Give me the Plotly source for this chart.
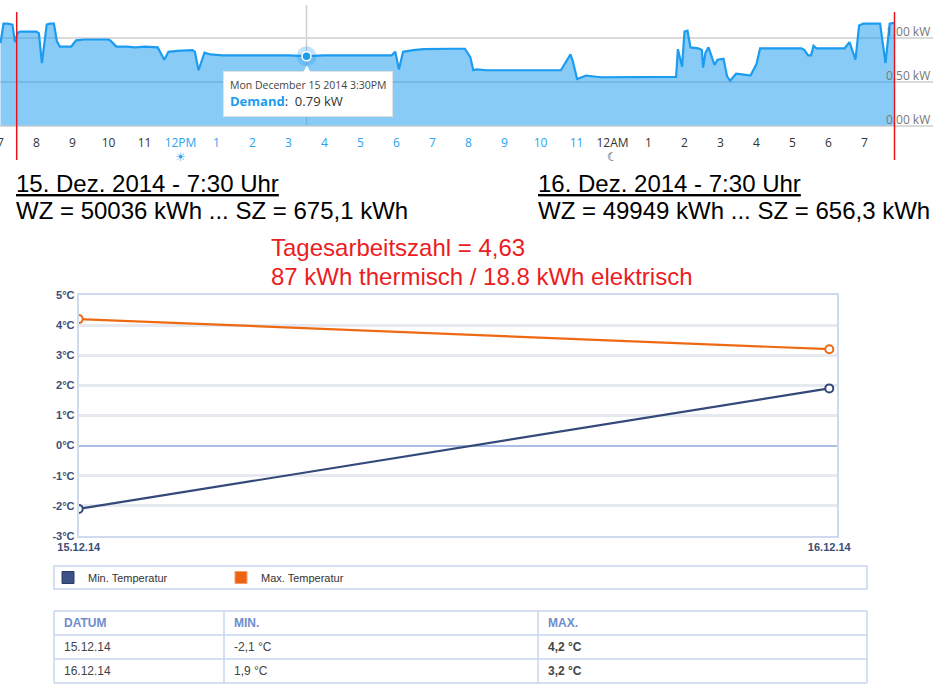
import plotly.graph_objects as go

# Demand curve (kW), 15./16.12.2014
demand_time = [
    "2014-12-15 07:00", "2014-12-15 07:05", "2014-12-15 07:12", "2014-12-15 07:20", "2014-12-15 07:24",
    "2014-12-15 07:29", "2014-12-15 07:33", "2014-12-15 07:45", "2014-12-15 08:00", "2014-12-15 08:04",
    "2014-12-15 08:09", "2014-12-15 08:17", "2014-12-15 08:22", "2014-12-15 08:29", "2014-12-15 08:34",
    "2014-12-15 08:39", "2014-12-15 08:50", "2014-12-15 08:58", "2014-12-15 09:06", "2014-12-15 09:20",
    "2014-12-15 09:40", "2014-12-15 10:00", "2014-12-15 10:03", "2014-12-15 10:13", "2014-12-15 10:30",
    "2014-12-15 10:45", "2014-12-15 11:00", "2014-12-15 11:22", "2014-12-15 11:33", "2014-12-15 11:40",
    "2014-12-15 11:55", "2014-12-15 12:10", "2014-12-15 12:20", "2014-12-15 12:24", "2014-12-15 12:30",
    "2014-12-15 12:40", "2014-12-15 12:50", "2014-12-15 13:10", "2014-12-15 13:30", "2014-12-15 14:00",
    "2014-12-15 14:30", "2014-12-15 15:00", "2014-12-15 15:30", "2014-12-15 16:00", "2014-12-15 16:30",
    "2014-12-15 17:00", "2014-12-15 17:30", "2014-12-15 17:52", "2014-12-15 17:58", "2014-12-15 18:04",
    "2014-12-15 18:11", "2014-12-15 18:28", "2014-12-15 18:45", "2014-12-15 19:10", "2014-12-15 19:30",
    "2014-12-15 19:54", "2014-12-15 20:03", "2014-12-15 20:08", "2014-12-15 20:13", "2014-12-15 20:30",
    "2014-12-15 21:00", "2014-12-15 21:30", "2014-12-15 22:00", "2014-12-15 22:34", "2014-12-15 22:50",
    "2014-12-15 22:54", "2014-12-15 23:01", "2014-12-15 23:16", "2014-12-15 23:40", "2014-12-16 00:30",
    "2014-12-16 01:00", "2014-12-16 01:46", "2014-12-16 01:49", "2014-12-16 01:56", "2014-12-16 02:00",
    "2014-12-16 02:05", "2014-12-16 02:10", "2014-12-16 02:23", "2014-12-16 02:29", "2014-12-16 02:31",
    "2014-12-16 02:35", "2014-12-16 02:40", "2014-12-16 02:50", "2014-12-16 02:55", "2014-12-16 03:05",
    "2014-12-16 03:11", "2014-12-16 03:16", "2014-12-16 03:26", "2014-12-16 03:39", "2014-12-16 03:50",
    "2014-12-16 04:00", "2014-12-16 04:06", "2014-12-16 04:30", "2014-12-16 05:00", "2014-12-16 05:15",
    "2014-12-16 05:20", "2014-12-16 05:26", "2014-12-16 05:31", "2014-12-16 05:35", "2014-12-16 05:40",
    "2014-12-16 06:00", "2014-12-16 06:27", "2014-12-16 06:35", "2014-12-16 06:45", "2014-12-16 06:51",
    "2014-12-16 06:58", "2014-12-16 07:26", "2014-12-16 07:35", "2014-12-16 07:42", "2014-12-16 07:49",
]
demand_kw = [
    0.94, 1.16, 1.16, 1.15, 0.95,
    1.06, 1.07, 1.07, 1.07, 1.05,
    0.71, 1.15, 1.16, 1.16, 0.96,
    0.90, 0.90, 0.90, 0.97, 0.98,
    0.98, 0.98, 0.97, 0.90, 0.90,
    0.89, 0.90, 0.89, 0.75, 0.84,
    0.85, 0.86, 0.86, 0.84, 0.63,
    0.83, 0.81, 0.80, 0.80, 0.80,
    0.80, 0.80, 0.79, 0.80, 0.80,
    0.80, 0.80, 0.80, 0.84, 0.64,
    0.84, 0.86, 0.87, 0.875, 0.875,
    0.875, 0.78, 0.63, 0.64, 0.63,
    0.63, 0.63, 0.63, 0.63, 0.81,
    0.73, 0.53, 0.57, 0.55, 0.55,
    0.55, 0.555, 0.87, 0.67, 1.07,
    1.08, 0.89, 0.88, 0.86, 0.66,
    0.83, 0.89, 0.69, 0.75, 0.76,
    0.56, 0.51, 0.59, 0.58, 0.57,
    0.70, 0.88, 0.88, 0.88, 0.88,
    0.86, 0.80, 0.80, 0.91, 0.88,
    0.88, 0.88, 0.95, 0.75, 1.14,
    1.16, 1.16, 0.71, 1.16, 1.17,
]

hour_ticks = [
    "2014-12-15 07:00", "2014-12-15 08:00", "2014-12-15 09:00", "2014-12-15 10:00", "2014-12-15 11:00",
    "2014-12-15 12:00", "2014-12-15 13:00", "2014-12-15 14:00", "2014-12-15 15:00", "2014-12-15 16:00",
    "2014-12-15 17:00", "2014-12-15 18:00", "2014-12-15 19:00", "2014-12-15 20:00", "2014-12-15 21:00",
    "2014-12-15 22:00", "2014-12-15 23:00", "2014-12-16 00:00", "2014-12-16 01:00", "2014-12-16 02:00",
    "2014-12-16 03:00", "2014-12-16 04:00", "2014-12-16 05:00", "2014-12-16 06:00", "2014-12-16 07:00",
]
hour_labels = ["7", "8", "9", "10", "11", "12PM", "1", "2", "3", "4", "5", "6", "7", "8", "9",
               "10", "11", "12AM", "1", "2", "3", "4", "5", "6", "7"]
kw_ticks = [0, 0.5, 1.0]
kw_labels = ["0.00 kW", "0.50 kW", "1.00 kW"]

tooltip_time = "2014-12-15 15:30"
reading_times = ["2014-12-15 07:27", "2014-12-16 07:50"]  # red marker lines (meter readings)

# header texts
reading_head = ["15. Dez. 2014 - 7:30 Uhr", "16. Dez. 2014 - 7:30 Uhr"]
reading_vals = ["WZ = 50036 kWh ... SZ = 675,1 kWh", "WZ = 49949 kWh ... SZ = 656,3 kWh"]
result_lines = ["Tagesarbeitszahl = 4,63", "87 kWh thermisch / 18.8 kWh elektrisch"]

# temperature chart
days = ["15.12.14", "16.12.14"]
t_min = [-2.1, 1.9]
t_max = [4.2, 3.2]
temp_ticks = [-3, -2, -1, 0, 1, 2, 3, 4, 5]

# table below the chart
table_head = ["DATUM", "MIN.", "MAX."]
t_min_txt = ["-2,1 °C", "1,9 °C"]
t_max_txt = ["4,2 °C", "3,2 °C"]

W, H = 946, 698
BLUE = "#1c9cf0"
ORANGE = "#ee6a12"
NAVY = "#34497a"
SANS = "Liberation Sans"
GRIDBLUE = "#c8d6ef"

def py(pix):
    # pixel row -> paper y
    return 1 - pix / H

def px(pix):
    return pix / W

fig = go.Figure()

# ---- demand area chart ----
fig.add_trace(go.Scatter(x=demand_time, y=demand_kw, mode="lines", fill="tozeroy",
                         line=dict(color=BLUE, width=2.2), fillcolor="rgba(28,156,240,0.52)",
                         hoverinfo="skip", showlegend=False, xaxis="x", yaxis="y"))

tip_val = demand_kw[demand_time.index(tooltip_time)]
fig.add_trace(go.Scatter(x=[tooltip_time], y=[tip_val], mode="markers",
                         marker=dict(size=20, color="rgba(28,156,240,0.28)"),
                         hoverinfo="skip", showlegend=False, xaxis="x", yaxis="y"))
fig.add_trace(go.Scatter(x=[tooltip_time], y=[tip_val], mode="markers",
                         marker=dict(size=9, color=BLUE, line=dict(color="white", width=1.5)),
                         hoverinfo="skip", showlegend=False, xaxis="x", yaxis="y"))

# ---- temperature lines ----
fig.add_trace(go.Scatter(x=days, y=t_max, mode="lines+markers", name="Max. Temperatur",
                         line=dict(color=ORANGE, width=2.2),
                         marker=dict(size=8, color="white", line=dict(color=ORANGE, width=2)),
                         showlegend=False, xaxis="x2", yaxis="y2"))
fig.add_trace(go.Scatter(x=days, y=t_min, mode="lines+markers", name="Min. Temperatur",
                         line=dict(color=NAVY, width=2.2),
                         marker=dict(size=8, color="white", line=dict(color=NAVY, width=2)),
                         showlegend=False, xaxis="x2", yaxis="y2"))

# legend swatches
fig.add_trace(go.Bar(x=[None], y=[None], name="Min. Temperatur",
                     marker=dict(color="#3a5286", line=dict(color="#2a3d66", width=1)),
                     xaxis="x2", yaxis="y2"))
fig.add_trace(go.Bar(x=[None], y=[None], name="Max. Temperatur",
                     marker=dict(color="#ec6412", line=dict(color="#f3a070", width=1)),
                     xaxis="x2", yaxis="y2"))

tick_text = []
for t, lab in zip(hour_ticks, hour_labels):
    hr = int(t[11:13])
    col = "#2aa3f0" if hr >= 12 else "#333333"
    tick_text.append(f"<span style='color:{col}'>{lab}</span>")

shapes = []
# crosshair at tooltip
shapes.append(dict(type="line", xref="x", yref="paper", x0=tooltip_time, x1=tooltip_time,
                   y0=py(126), y1=py(5), line=dict(color="#cfcfcf", width=1.5), layer="below"))
# meter reading marks
for t in reading_times:
    shapes.append(dict(type="line", xref="x", yref="paper", x0=t, x1=t, y0=py(160), y1=py(12),
                       line=dict(color="#e8141c", width=1.5)))
# legend frame
shapes.append(dict(type="rect", xref="paper", yref="paper", x0=px(54), x1=px(867),
                   y0=py(589), y1=py(566), line=dict(color=GRIDBLUE, width=1.5)))

# table grid (column / row edges in page pixels)
col_edges = [54, 224, 538, 867]
row_edges = [611, 635, 659, 683]
for xe in col_edges:
    shapes.append(dict(type="line", xref="paper", yref="paper", x0=px(xe), x1=px(xe),
                       y0=py(row_edges[0]), y1=py(row_edges[-1]),
                       line=dict(color=GRIDBLUE, width=1.5)))
for ye in row_edges:
    shapes.append(dict(type="line", xref="paper", yref="paper", x0=px(col_edges[0]),
                       x1=px(col_edges[-1]), y0=py(ye), y1=py(ye),
                       line=dict(color=GRIDBLUE, width=1.5)))

annotations = [
    dict(x=tooltip_time, y=tip_val, xref="x", yref="y", ax=1, ay=38, showarrow=True,
         arrowhead=2, arrowsize=2.5, arrowwidth=1, arrowcolor="white", standoff=9,
         text="<span style='font-size:10.5px;color:#444'>Mon December 15 2014 3:30PM</span><br>"
              f"<span style='color:{BLUE}'><b>Demand</b></span>:  {tip_val:.2f} kW",
         align="left", font=dict(size=13, color="#333"), bgcolor="white",
         bordercolor="#e2e2e2", borderwidth=1, borderpad=6),
    dict(x="2014-12-15 12:00", y=py(157), xref="x", yref="paper", yanchor="middle", text="☀",
         showarrow=False, font=dict(size=12, color="#2aa3f0", family="DejaVu Sans")),
    dict(x="2014-12-16 00:00", y=py(157), xref="x", yref="paper", yanchor="middle", text="☾",
         showarrow=False, font=dict(size=12, color="#333", family="DejaVu Sans")),
]
for i, xl in enumerate([14, 536]):
    annotations.append(dict(x=px(xl), y=py(184), xref="paper", yref="paper", xanchor="left",
                            yanchor="middle", showarrow=False,
                            text=f"<span style='text-decoration:underline'>{reading_head[i]}</span>",
                            font=dict(family=SANS, size=24, color="black")))
    annotations.append(dict(x=px(xl), y=py(211), xref="paper", yref="paper", xanchor="left",
                            yanchor="middle", showarrow=False, text=reading_vals[i],
                            font=dict(family=SANS, size=24, color="black")))
for yl, txt in zip([248, 276], result_lines):
    annotations.append(dict(x=px(269), y=py(yl), xref="paper", yref="paper", xanchor="left",
                            yanchor="middle", showarrow=False, text=txt,
                            font=dict(family=SANS, size=24, color="#ec1c24")))

# table texts
table_cols = [days, t_min_txt, ["<b>" + v + "</b>" for v in t_max_txt]]
for c, head in enumerate(table_head):
    xl = px(col_edges[c] + 8)
    annotations.append(dict(x=xl, y=py((row_edges[0] + row_edges[1]) / 2), xref="paper",
                            yref="paper", xanchor="left", yanchor="middle", showarrow=False,
                            text=f"<b>{head}</b>",
                            font=dict(family=SANS, size=12, color="#6f8dcc")))
    for r, val in enumerate(table_cols[c]):
        annotations.append(dict(x=xl, y=py((row_edges[r + 1] + row_edges[r + 2]) / 2),
                                xref="paper", yref="paper", xanchor="left", yanchor="middle",
                                showarrow=False, text=val,
                                font=dict(family=SANS, size=12, color="#444444")))

fig.update_layout(
    width=W, height=H, margin=dict(l=0, r=0, t=0, b=0, autoexpand=False),
    paper_bgcolor="white", plot_bgcolor="white",
    font=dict(family="Open Sans", color="#333"),
    xaxis=dict(domain=[0, px(933)], anchor="y", type="date", automargin=False,
               range=["2014-12-15 06:59:10", "2014-12-16 08:54:11"],
               tickvals=hour_ticks, ticktext=tick_text, ticks="", showgrid=False,
               zeroline=False, showline=False, tickfont=dict(size=12),
               ticklabelstandoff=8, ticklabeloverflow="allow"),
    yaxis=dict(domain=[py(126), 1], anchor="free", position=px(885), side="right",
               range=[-0.005, 1.43], automargin=False, tickvals=kw_ticks, ticktext=kw_labels,
               ticklabelposition="outside", ticklabelshift=-6, ticklabeloverflow="allow",
               gridcolor="#dadada", gridwidth=2,
               zeroline=True, zerolinecolor="#dadada", zerolinewidth=2,
               showline=False, ticks="", tickfont=dict(size=12, color="#777")),
    xaxis2=dict(domain=[px(78.7), px(837.3)], anchor="y2", type="category", automargin=False,
                range=[0, 1.0107], ticks="", showgrid=False, zeroline=False,
                showline=True, mirror=True, linecolor="#cfdaee", linewidth=2,
                tickfont=dict(family=SANS, size=11, color="#3b4e77", weight="bold")),
    yaxis2=dict(domain=[py(536), py(295)], anchor="x2", range=[-3, 5], automargin=False,
                tickvals=temp_ticks, ticktext=[f"{v}°C" for v in temp_ticks], ticks="",
                gridcolor="#e6e9f0", gridwidth=2.5, zeroline=True, zerolinecolor="#a9c0e4",
                zerolinewidth=2, showline=True, mirror=True, linecolor="#cfdaee", linewidth=2,
                tickfont=dict(family=SANS, size=11, color="#3b4e77", weight="bold")),
    showlegend=True,
    legend=dict(orientation="h", x=px(48), y=py(577.5), xanchor="left", yanchor="middle",
                entrywidth=128, entrywidthmode="pixels", bgcolor="rgba(0,0,0,0)",
                font=dict(family=SANS, size=11, color="#333")),
    shapes=shapes, annotations=annotations,
)

# page body has an 8px default margin; drop it so the figure sits at the window corner
fig.write_html("out.html", config={"displayModeBar": False},
               post_script="document.body.style.margin='0';")
